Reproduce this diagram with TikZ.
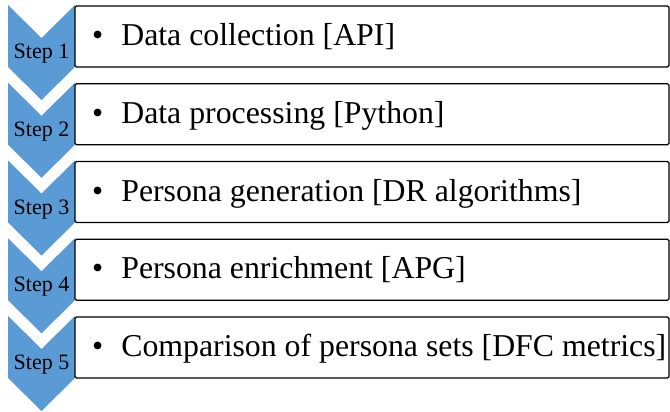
\documentclass[tikz,border=0pt]{standalone}
\usepackage{fontspec}
\setmainfont{Liberation Serif}
\definecolor{chevblue}{HTML}{5B9BD5}
\tikzset{
  chev/.style={fill=chevblue, draw=none},
  stepbox/.style={draw=black, line width=1.3pt, rounded corners=1.5pt, fill=white},
  steplabel/.style={font=\fontsize{22}{24}\selectfont, anchor=base, inner sep=0pt},
  boxtext/.style={font=\fontsize{31.8}{34}\selectfont, anchor=base west, inner sep=0pt},
}
\begin{document}
\begin{tikzpicture}[x=1pt,y=-1pt]
\useasboundingbox (0,0) rectangle (670,412);
\foreach \i/\lab/\txt in {0/1/{Data collection [API]},1/2/{Data processing [Python]},2/3/{Persona generation [DR algorithms]},3/4/{Persona enrichment [APG]},4/5/{Comparison of persona sets [DFC metrics]}}{
  \pgfmathsetmacro{\yo}{5+77.75*\i}
  \fill[chev] (8,\yo) -- (41.5,\yo+33) -- (75,\yo) -- (75,\yo+62) -- (41.5,\yo+95) -- (8,\yo+62) -- cycle;
  \draw[stepbox] (75,\yo+1) rectangle (669,\yo+62);
  \node[steplabel] (s\lab) at (41.5,\yo+53.5) {Step \lab};
  \node[boxtext] (b\lab) at (92,\yo+40.5) {\textbullet\hspace{18pt}\txt};
}
\end{tikzpicture}
\end{document}
